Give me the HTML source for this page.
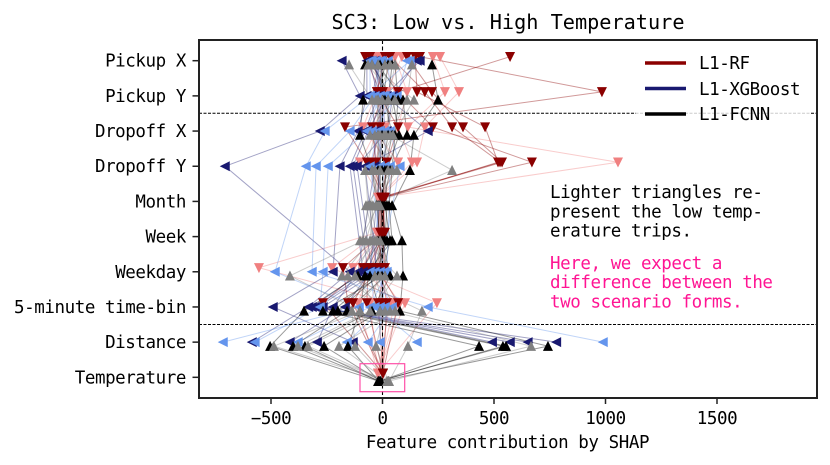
<!DOCTYPE html>
<html>
<head>
<meta charset="utf-8">
<style>
html,body{margin:0;padding:0;background:#fff;}
svg{display:block;}
text{font-family:"DejaVu Sans Mono","Liberation Mono",monospace;fill:#000;letter-spacing:-0.42px;}
</style>
</head>
<body>
<svg id="chart" width="830" height="465" viewBox="0 0 830 465" xmlns="http://www.w3.org/2000/svg">
  <rect x="0" y="0" width="830" height="465" fill="#fff"/>
  <text x="508" y="29" font-size="20.6" text-anchor="middle" textLength="353" lengthAdjust="spacingAndGlyphs" style="letter-spacing:0">SC3: Low vs. High Temperature</text>
  <g id="lines"></g>
  <line x1="382.5" y1="40" x2="382.5" y2="398" stroke="#000" stroke-width="1.1" stroke-dasharray="4,2.5"/>
  <line x1="199" y1="113.3" x2="817" y2="113.3" stroke="#000" stroke-width="1" stroke-dasharray="3,1.5"/>
  <line x1="199" y1="324.5" x2="817" y2="324.5" stroke="#000" stroke-width="1" stroke-dasharray="3,1.5"/>
  <g id="markers"></g>
  <rect x="360" y="363.7" width="44.7" height="28" fill="none" stroke="#ff4fa8" stroke-width="1.2"/>
  <g>
    <rect x="636" y="46" width="175" height="82" fill="#fff" fill-opacity="0.8"/>
    <g>
      <line x1="645" y1="63" x2="686" y2="63" stroke="#8b0000" stroke-width="3.6"/>
      <text x="699" y="69" font-size="17.5">L1-RF</text>
    </g>
    <g>
      <line x1="645" y1="88.5" x2="686" y2="88.5" stroke="#191970" stroke-width="3.6"/>
      <text x="699" y="95" font-size="17.5">L1-XGBoost</text>
    </g>
    <g>
      <line x1="645" y1="114" x2="686" y2="114" stroke="#000" stroke-width="3.6"/>
      <text x="699" y="120" font-size="17.5">L1-FCNN</text>
    </g>
  </g>
  <g font-size="17.5">
    <text x="550" y="198">Lighter triangles re-</text>
    <text x="550" y="217.5">present the low temp-</text>
    <text x="550" y="236.5">erature trips.</text>
  </g>
  <g font-size="17.5">
    <text x="550" y="269" style="fill:#ff1493">Here, we expect a</text>
    <text x="550" y="288" style="fill:#ff1493">difference between the</text>
    <text x="550" y="307.5" style="fill:#ff1493">two scenario forms.</text>
  </g>
  <g id="axes"></g>
  <rect x="199" y="40" width="618" height="358" fill="none" stroke="#222" stroke-width="2"/>
  <text x="507.5" y="448" font-size="17.5" text-anchor="middle">Feature contribution by SHAP</text>
</svg>
<script>
const features = ["Pickup X","Pickup Y","Dropoff X","Dropoff Y","Month","Week","Weekday","5-minute time-bin","Distance","Temperature"];
const xTicks = [-500,0,500,1000,1500];

// Each trip: one value per feature (null = not plotted for that model)
const rfHigh = [
  [168,984,-168,-70,7,2,-177,-155,null,2],
  [572,70,226,670,2,7,-25,70,null,2],
  [146,155,460,518,11,-7,-87,-267,null,2],
  [110,222,361,536,-2,11,-65,-70,null,2],
  [34,190,312,527,-7,-2,-47,-132,null,2],
  [11,-25,70,20,2,-11,-11,20,null,2],
  [-56,2,-47,-29,-2,2,11,-20,null,2],
  [-78,-11,-11,-47,7,7,2,-2,null,2]
];
const rfLow = [
  [258,343,190,155,-11,-25,-554,34,null,-20],
  [226,280,114,1056,-7,-20,-226,101,null,-20],
  [56,110,70,132,-16,-16,-132,244,null,-20],
  [87,20,-20,-101,-11,-11,-56,-110,null,-20],
  [11,-25,-87,20,-2,-25,-34,78,null,-20],
  [-34,-2,11,-34,-20,-20,-2,-56,null,-20],
  [-11,65,-47,70,-7,-11,-92,56,null,-20]
];
const xgbHigh = [
  [-182,-101,-280,-706,null,null,-146,-332,-585,null],
  [-70,-70,-110,-191,null,null,-222,-491,-132,null],
  [-60,-20,-78,-146,null,null,-87,-316,780,null],
  [-47,20,-65,-132,null,null,-65,-302,652,null],
  [155,47,20,-114,null,null,-47,-289,572,null],
  [168,11,204,-78,null,null,-25,-267,492,null],
  [-11,-47,-34,-34,null,null,-110,-222,-293,null],
  [-34,-11,-11,-11,null,null,-56,-168,-415,null]
];
const xgbLow = [
  [-56,-56,-258,-343,null,null,-482,-105,-715,null],
  [-11,-34,-146,-298,null,null,-316,204,989,null],
  [-2,-11,-70,-244,null,null,-267,-280,-572,null],
  [110,65,-47,34,null,null,20,-56,-379,null],
  [123,-56,34,78,null,null,-11,11,-159,null],
  [-47,11,-11,-11,null,null,-34,43,-65,null],
  [25,34,-20,-56,null,null,7,-11,-11,null],
  [-29,2,11,11,null,null,-56,-34,155,null]
];
const fcnnHigh = [
  [-78,-87,-101,-47,-25,-11,-110,-352,-504,-16],
  [43,25,25,-2,11,34,-2,-267,433,-16],
  [222,249,141,123,43,87,92,78,742,-11],
  [-47,47,74,20,-11,20,-34,-222,540,-16],
  [-20,92,110,34,2,7,-20,-200,554,-20],
  [11,-20,-20,-20,-16,-20,11,-159,-401,-11],
  [25,2,-2,-11,-7,-2,34,-47,-348,-16],
  [-11,11,43,11,20,11,-56,-11,-262,-7],
  [56,70,56,43,29,43,-78,-101,-155,-16]
];
const fcnnLow = [
  [-150,-47,-34,-78,-65,-87,-415,-101,-487,25],
  [-20,-2,-11,65,-43,-56,-182,34,666,25],
  [132,110,34,312,-52,-25,-155,177,114,29],
  [-47,141,47,-34,-29,-74,65,-56,-379,25],
  [11,-20,-20,-11,-56,-47,-123,-11,-334,20],
  [34,-29,7,25,-20,-101,-11,56,-195,25],
  [56,25,-56,43,-74,-34,11,-137,-123,29],
  [-65,56,16,-47,-11,-11,-34,11,-29,25]
];

const NS = "http://www.w3.org/2000/svg";
function xScale(v){ return 382.5 + v * 0.223; }
function yScale(i){ return 60.7 + i * 35.18; }

const seriesList = [
  {key:"rf-low", data:rfLow, color:"#f08080", shape:"down", offset:-4, opacity:0.4},
  {key:"rf-high", data:rfHigh, color:"#8b0000", shape:"down", offset:-4, opacity:0.4},
  {key:"xgb-high", data:xgbHigh, color:"#191970", shape:"left", offset:0, opacity:0.4},
  {key:"xgb-low", data:xgbLow, color:"#6495ed", shape:"left", offset:0, opacity:0.4},
  {key:"fcnn-high", data:fcnnHigh, color:"#000000", shape:"up", offset:4, opacity:0.4},
  {key:"fcnn-low", data:fcnnLow, color:"#808080", shape:"up", offset:4, opacity:0.4}
];

function trianglePoints(shape, cx, cy){
  const r = 4.2;
  if (shape === "down") return (cx-r)+","+(cy-r)+" "+(cx+r)+","+(cy-r)+" "+cx+","+(cy+r);
  if (shape === "up") return (cx-r)+","+(cy+r)+" "+(cx+r)+","+(cy+r)+" "+cx+","+(cy-r);
  return (cx+r)+","+(cy-r)+" "+(cx+r)+","+(cy+r)+" "+(cx-r)+","+cy;
}

const linesGroup = document.getElementById("lines");
const markersGroup = document.getElementById("markers");
seriesList.forEach(function(s){
  s.data.forEach(function(trip){
    const pts = [];
    trip.forEach(function(v,i){
      if (v !== null) pts.push(xScale(v).toFixed(2)+","+(yScale(i)+s.offset).toFixed(2));
    });
    const line = document.createElementNS(NS,"polyline");
    
    
    line.setAttribute("points", pts.join(" "));
    line.setAttribute("fill","none");
    line.setAttribute("stroke", s.color);
    line.setAttribute("stroke-width","1");
    line.setAttribute("stroke-opacity", s.opacity);
    linesGroup.appendChild(line);
  });
});
seriesList.forEach(function(s){
  s.data.forEach(function(trip){
    trip.forEach(function(v,i){
      if (v === null) return;
      const tri = document.createElementNS(NS,"polygon");
      
      
      tri.setAttribute("points", trianglePoints(s.shape, xScale(v), yScale(i)+s.offset));
      tri.setAttribute("fill", s.color);
      tri.setAttribute("stroke", s.color);
      tri.setAttribute("stroke-width", "1");
      tri.setAttribute("stroke-linejoin", "miter");
      markersGroup.appendChild(tri);
    });
  });
});

const axes = document.getElementById("axes");
features.forEach(function(name,i){
  const tick = document.createElementNS(NS,"line");
  
  
  tick.setAttribute("x1",192.5);
  tick.setAttribute("x2",199);
  tick.setAttribute("y1",yScale(i));
  tick.setAttribute("y2",yScale(i));
  tick.setAttribute("stroke","#222");
  tick.setAttribute("stroke-width","1.5");
  axes.appendChild(tick);
  const label = document.createElementNS(NS,"text");
  
  
  label.setAttribute("x",186);
  label.setAttribute("y",yScale(i)+6);
  label.setAttribute("font-size","17.5");
  label.setAttribute("text-anchor","end");
  label.textContent = name;
  axes.appendChild(label);
});
xTicks.forEach(function(v){
  const tick = document.createElementNS(NS,"line");
  
  
  tick.setAttribute("x1",xScale(v));
  tick.setAttribute("x2",xScale(v));
  tick.setAttribute("y1",398);
  tick.setAttribute("y2",404);
  tick.setAttribute("stroke","#222");
  tick.setAttribute("stroke-width","1.5");
  axes.appendChild(tick);
  const label = document.createElementNS(NS,"text");
  
  
  label.setAttribute("x",xScale(v));
  label.setAttribute("y",424);
  label.setAttribute("font-size","17.5");
  label.setAttribute("text-anchor","middle");
  label.textContent = v < 0 ? "\u2212" + Math.abs(v) : String(v);
  axes.appendChild(label);
});
</script>
</body>
</html>
